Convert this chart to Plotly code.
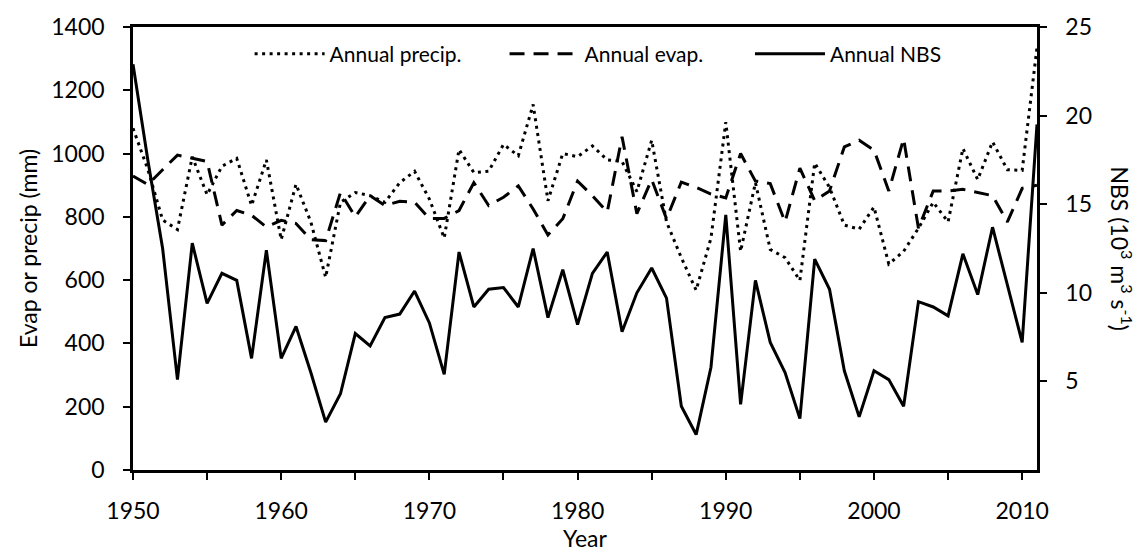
import plotly.graph_objects as go

years = list(range(1950, 2012))

precip = [1080, 950, 790, 760, 990, 870, 960, 985, 836, 980,
          728, 903, 784, 609, 846, 877, 867, 846, 908, 944,
          856, 733, 1013, 940, 944, 1029, 993, 1155, 851, 1000,
          990, 1024, 980, 975, 880, 1042, 784, 671, 568, 733,
          1099, 691, 908, 697, 671, 599, 970, 893, 774, 761,
          831, 651, 691, 764, 846, 784, 1016, 918, 1037, 949,
          947, 1335]

evap = [929, 902, 949, 995, 985, 975, 774, 820, 805, 768,
        789, 779, 728, 725, 877, 800, 867, 836, 849, 846,
        795, 795, 820, 908, 836, 862, 898, 825, 743, 794,
        913, 867, 815, 1053, 810, 918, 794, 910, 893, 872,
        860, 1000, 913, 905, 784, 954, 851, 882, 1021, 1042,
        1011, 882, 1047, 764, 882, 882, 887, 877, 867, 784,
        890, 900]

nbs = [22.9, 17.5, 12.5, 5.1, 12.8, 9.4, 11.1, 10.7, 6.3, 12.4,
       6.3, 8.1, 5.5, 2.7, 4.3, 7.7, 7.0, 8.6, 8.8, 10.1,
       8.3, 5.4, 12.3, 9.2, 10.2, 10.3, 9.2, 12.5, 8.6, 11.3,
       8.2, 11.1, 12.3, 7.8, 10.0, 11.4, 9.7, 3.6, 2.0, 5.8,
       14.4, 3.7, 10.7, 7.2, 5.5, 2.9, 11.9, 10.2, 5.6, 3.0,
       5.6, 5.1, 3.6, 9.5, 9.2, 8.7, 12.2, 9.9, 13.7, 10.4,
       7.2, 19.5]

x_ticks = list(range(1950, 2011, 5))
x_ticktext = [str(v) if v % 10 == 0 else "" for v in x_ticks]
left_ticks = list(range(0, 1401, 200))
right_ticks = [5, 10, 15, 20, 25]

FONT = "Lato, 'Open Sans', sans-serif"
TICK = 23

fig = go.Figure()
fig.add_trace(go.Scatter(x=years, y=precip, mode="lines", name="Annual precip.",
                         line=dict(color="black", width=3, dash="3px,4.5px"), legend="legend"))
fig.add_trace(go.Scatter(x=years, y=evap, mode="lines", name="Annual evap.",
                         line=dict(color="black", width=3, dash="15px,9px"), legend="legend2"))
fig.add_trace(go.Scatter(x=years, y=nbs, mode="lines", name="Annual NBS", yaxis="y2",
                         line=dict(color="black", width=3), legend="legend3"))

leg_common = dict(orientation="h", yanchor="middle", y=0.939, xanchor="left",
                  bgcolor="rgba(0,0,0,0)", font=dict(family=FONT, size=21, color="black"),
                  itemwidth=70)

fig.update_layout(
    width=1140, height=556,
    margin=dict(l=133, r=103, t=17, b=86),
    plot_bgcolor="white", paper_bgcolor="white",
    font=dict(family=FONT, size=TICK, color="black"),
    showlegend=True,
    legend=dict(x=0.129, **leg_common),
    legend2=dict(x=0.411, **leg_common),
    legend3=dict(x=0.6825, **leg_common),
    xaxis=dict(range=[1950, 2011], tickvals=x_ticks, ticktext=x_ticktext,
               ticks="outside", ticklen=7, tickwidth=2, tickcolor="black",
               ticklabelstandoff=12,
               showline=True, linecolor="black", linewidth=2.5, mirror=True,
               showgrid=False, zeroline=False, tickfont=dict(size=TICK),
               title=dict(text="Year", font=dict(size=TICK), standoff=0)),
    yaxis=dict(range=[0, 1400], tickvals=left_ticks,
               ticks="outside", ticklen=7, tickwidth=2, tickcolor="black",
               ticklabelstandoff=14,
               showline=True, linecolor="black", linewidth=2.5,
               showgrid=False, zeroline=False, tickfont=dict(size=TICK),
               title=dict(text="Evap or precip (mm)", font=dict(size=TICK), standoff=8)),
    yaxis2=dict(range=[0, 25], tickvals=right_ticks, overlaying="y", side="right",
                ticks="outside", ticklen=7, tickwidth=2, tickcolor="black",
                ticklabelstandoff=14,
                showline=True, linecolor="black", linewidth=2.5,
                showgrid=False, zeroline=False, tickfont=dict(size=TICK)),
    annotations=[dict(text="NBS (10<sup>3</sup> m<sup>3</sup> s<sup>-1</sup>)",
                      xref="paper", yref="paper", x=1.093, y=0.5, textangle=90,
                      showarrow=False, font=dict(size=TICK, family=FONT),
                      xanchor="center", yanchor="middle")],
)

fig.write_html("out.html")
